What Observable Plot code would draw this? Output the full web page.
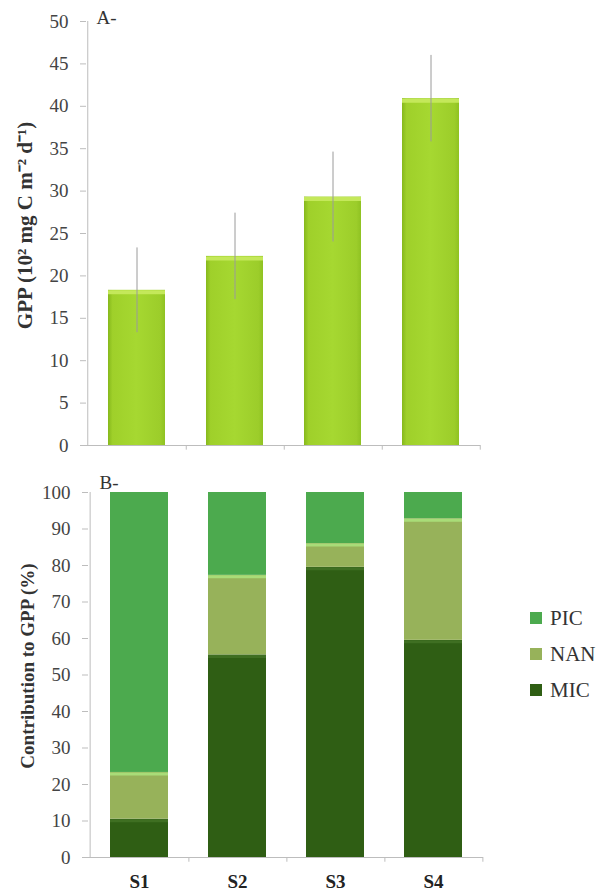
<!DOCTYPE html>
<html><head><meta charset="utf-8">
<script src="https://cdn.jsdelivr.net/npm/d3@7"></script>
<script src="https://cdn.jsdelivr.net/npm/@observablehq/plot@0.6"></script>
<style>
body{margin:0;background:#fff;}
#wrap{position:relative;width:609px;height:893px;font-family:"Liberation Serif","Times New Roman",serif;}
#top{position:absolute;left:0;top:0;}
#bot{position:absolute;left:0;top:450px;}
#legend{position:absolute;left:530px;top:600px;font-size:21px;color:#333;line-height:36px;}
#legend .it{display:flex;align-items:center;height:36px;}
#legend .sw{width:12px;height:12px;margin-right:8px;display:inline-block;}
svg{overflow:visible;}
</style></head>
<body><div id="wrap"><div id="top"></div><div id="bot"></div><div id="legend"></div></div>
<script>
const sites = ["S1", "S2", "S3", "S4"];
const gpp = [18.3, 22.3, 29.3, 40.9];
const gppSd = [5.0, 5.1, 5.3, 5.1];
const gppTicks = [0, 5, 10, 15, 20, 25, 30, 35, 40, 45, 50];
const groups = ["MIC", "NAN", "PIC"];
const micShare = [10.5, 55.5, 79.5, 59.5];
const nanShare = [12.8, 21.8, 6.5, 33.3];
const picShare = [76.7, 22.7, 14.0, 7.2];
const pctTicks = [0, 10, 20, 30, 40, 50, 60, 70, 80, 90, 100];
const groupColors = ["#2f5e14", "#97b25a", "#4caa4e"];
const legendOrder = ["PIC", "NAN", "MIC"];

const W = 609;
const serif = "Liberation Serif, Times New Roman, serif";
const axisGray = "#bdbdbd";

// ---- Panel A ----
const gppData = sites.map((s, i) => ({site: s, v: gpp[i], sd: gppSd[i]}));
const mlA = 86, mrA = 129;
const stepA = (W - mlA - mrA) / sites.length;
const plotA = Plot.plot({
  width: W, height: 462,
  marginLeft: mlA, marginRight: mrA, marginTop: 21, marginBottom: 17,
  style: {fontFamily: serif, fontSize: "19px", color: "#444", background: "transparent", overflow: "visible"},
  x: {domain: sites, paddingInner: 0.42, paddingOuter: 0.21, axis: null},
  y: {domain: [0, 50], axis: null},
  marks: [
    Plot.axisY({ticks: gppTicks, tickSize: 6, tickPadding: 12, stroke: axisGray, fill: "#444", fontSize: 19, fontFamily: serif, label: null, tickFormat: d => d}),
    Plot.ruleY([0], {stroke: axisGray}),
    Plot.ruleX([0], {x: () => sites[0], dx: -stepA / 2, y1: 0, y2: 50, stroke: axisGray}),
    Plot.ruleX(sites, {x: d => d, dx: stepA / 2, y1: 0, y2: -0.55, stroke: axisGray}),
    Plot.barY(gppData, {x: "site", y: "v", fill: "url(#gppGrad)"}),
    Plot.tickY(gppData, {x: "site", y: "v", dy: 2, stroke: "#c4e85a", strokeWidth: 4}),
    Plot.ruleX(gppData, {x: "site", y1: d => d.v - d.sd, y2: d => d.v + d.sd, stroke: "#9a9a9a", strokeWidth: 1}),
    Plot.text(["A-"], {frameAnchor: "top-left", dx: 10, dy: -4, textAnchor: "start", lineAnchor: "middle", fontSize: 19, fill: "#333"}),
    Plot.text(["GPP (10² mg C m⁻² d⁻¹)"], {frameAnchor: "left", textAnchor: "middle", rotate: -90, dx: -61, dy: -8, lineAnchor: "middle", fontSize: 21, fontWeight: "bold", fill: "#333"})
  ]
});
plotA.insertAdjacentHTML("afterbegin",
  `<defs><linearGradient id="gppGrad" x1="0" x2="1" y1="0" y2="0">
    <stop offset="0" stop-color="#86b81c"/>
    <stop offset="0.08" stop-color="#9fd02a"/>
    <stop offset="0.5" stop-color="#a6d831"/>
    <stop offset="0.92" stop-color="#9ccd2a"/>
    <stop offset="1" stop-color="#8fc222"/>
  </linearGradient></defs>`);
document.getElementById("top").appendChild(plotA);

// ---- Panel B ----
const shareData = [];
sites.forEach((s, i) => {
  shareData.push({site: s, group: "MIC", value: micShare[i]});
  shareData.push({site: s, group: "NAN", value: nanShare[i]});
  shareData.push({site: s, group: "PIC", value: picShare[i]});
});
const mlB = 88, mrB = 126;
const stepB = (W - mlB - mrB) / sites.length;
const plotB = Plot.plot({
  width: W, height: 443,
  marginLeft: mlB, marginRight: mrB, marginTop: 42, marginBottom: 36,
  style: {fontFamily: serif, fontSize: "19px", color: "#444", background: "transparent", overflow: "visible"},
  x: {domain: sites, paddingInner: 0.41, paddingOuter: 0.205, axis: null},
  y: {domain: [0, 100], axis: null},
  color: {domain: groups, range: groupColors},
  opacity: {type: "identity"},
  marks: [
    Plot.axisY({ticks: pctTicks, tickSize: 6, tickPadding: 12, stroke: axisGray, fill: "#444", fontSize: 19, fontFamily: serif, label: null, tickFormat: d => d}),
    Plot.axisX({tickSize: 0, tickPadding: 17, fontWeight: "bold", fontSize: 19, fontFamily: serif, fill: "#222", label: null}),
    Plot.ruleY([0], {stroke: axisGray}),
    Plot.ruleX([0], {x: () => sites[0], dx: -stepB / 2, y1: 0, y2: 100, stroke: axisGray}),
    Plot.ruleX(sites, {x: d => d, dx: stepB / 2, y1: 0, y2: -1.3, stroke: axisGray}),
    Plot.barY(shareData, {x: "site", y: "value", fill: "group"}),
    Plot.tickY(shareData, Plot.stackY2({x: "site", y: "value", dy: 1.5, stroke: "#a9dc78", strokeWidth: 3, strokeOpacity: d => d.group === "NAN" ? 1 : 0})),
    Plot.tickY(shareData, Plot.stackY2({x: "site", y: "value", dy: 1.5, stroke: "#3f6f22", strokeWidth: 3, strokeOpacity: d => d.group === "MIC" ? 1 : 0})),
    Plot.text(["B-"], {frameAnchor: "top-left", dx: 11, dy: -10, textAnchor: "start", lineAnchor: "middle", fontSize: 19, fill: "#333"}),
    Plot.text(["Contribution to GPP (%)"], {frameAnchor: "left", textAnchor: "middle", rotate: -90, dx: -61, dy: -9, lineAnchor: "middle", fontSize: 19, fontWeight: "bold", fill: "#333"})
  ]
});
document.getElementById("bot").appendChild(plotB);

// legend
const leg = document.getElementById("legend");
legendOrder.forEach(g => {
  const it = document.createElement("div");
  it.className = "it";
  const sw = document.createElement("span");
  sw.className = "sw";
  sw.style.background = groupColors[groups.indexOf(g)];
  it.appendChild(sw);
  it.appendChild(document.createTextNode(g));
  leg.appendChild(it);
});
</script>
</body></html>
